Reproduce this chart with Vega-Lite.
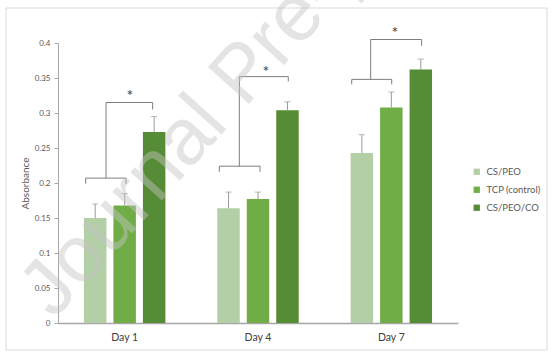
{
  "$schema": "https://vega.github.io/schema/vega-lite/v6.json",
  "width": 400,
  "height": 280,
  "autosize": {"type": "none"},
  "padding": {"left": 58, "top": 43, "right": 96, "bottom": 34},
  "background": "white",
  "config": {
    "font": "Lato",
    "view": {"stroke": null},
    "axis": {"labelColor": "#595959", "titleColor": "#595959", "domainColor": "#a6a6a6", "tickColor": "#a6a6a6", "grid": false}
  },
  "datasets": {
    "bars": [
      {"day": "Day 1", "group": "CS/PEO", "value": 0.150, "upper": 0.170},
      {"day": "Day 1", "group": "TCP (control)", "value": 0.168, "upper": 0.185},
      {"day": "Day 1", "group": "CS/PEO/CO", "value": 0.273, "upper": 0.295},
      {"day": "Day 4", "group": "CS/PEO", "value": 0.164, "upper": 0.187},
      {"day": "Day 4", "group": "TCP (control)", "value": 0.177, "upper": 0.187},
      {"day": "Day 4", "group": "CS/PEO/CO", "value": 0.304, "upper": 0.316},
      {"day": "Day 7", "group": "CS/PEO", "value": 0.243, "upper": 0.269},
      {"day": "Day 7", "group": "TCP (control)", "value": 0.308, "upper": 0.330},
      {"day": "Day 7", "group": "CS/PEO/CO", "value": 0.362, "upper": 0.377}
    ],
    "brackets": [
      {"xa": 0.2075, "xb": 0.51, "ya": 0.207, "yb": 0.207},
      {"xa": 0.2075, "xb": 0.2075, "ya": 0.199, "yb": 0.207},
      {"xa": 0.51, "xb": 0.51, "ya": 0.199, "yb": 0.207},
      {"xa": 0.36, "xb": 0.36, "ya": 0.207, "yb": 0.315},
      {"xa": 0.36, "xb": 0.71, "ya": 0.315, "yb": 0.315},
      {"xa": 0.71, "xb": 0.71, "ya": 0.305, "yb": 0.315},
      {"xa": 1.21, "xb": 1.515, "ya": 0.224, "yb": 0.224},
      {"xa": 1.21, "xb": 1.21, "ya": 0.216, "yb": 0.224},
      {"xa": 1.515, "xb": 1.515, "ya": 0.216, "yb": 0.224},
      {"xa": 1.36, "xb": 1.36, "ya": 0.224, "yb": 0.352},
      {"xa": 1.36, "xb": 1.727, "ya": 0.352, "yb": 0.352},
      {"xa": 1.727, "xb": 1.727, "ya": 0.345, "yb": 0.352},
      {"xa": 2.203, "xb": 2.503, "ya": 0.348, "yb": 0.348},
      {"xa": 2.203, "xb": 2.203, "ya": 0.341, "yb": 0.348},
      {"xa": 2.503, "xb": 2.503, "ya": 0.341, "yb": 0.348},
      {"xa": 2.345, "xb": 2.345, "ya": 0.348, "yb": 0.405},
      {"xa": 2.345, "xb": 2.727, "ya": 0.405, "yb": 0.405},
      {"xa": 2.727, "xb": 2.727, "ya": 0.396, "yb": 0.405}
    ],
    "stars": [
      {"x": 0.54, "y": 0.3176, "label": "*"},
      {"x": 1.56, "y": 0.352, "label": "*"},
      {"x": 2.5275, "y": 0.4066, "label": "*"}
    ],
    "watermark": [
      {"x": -0.03, "y": 0.004, "label": "Journal Pre-proof"}
    ],
    "frame": [
      {"xa": -0.39, "xb": 3.6675, "ya": -0.0386, "yb": 0.45}
    ]
  },
  "layer": [
    {
      "data": {"name": "bars"},
      "encoding": {
        "x": {"field": "day", "type": "nominal", "sort": ["Day 1", "Day 4", "Day 7"],
              "scale": {"paddingInner": 0, "paddingOuter": 0},
              "axis": {"title": null, "labelAngle": 0, "ticks": false, "tickSize": 0, "labelPadding": 9, "labelFontSize": 10.5, "labelColor": "#404040", "domainWidth": 1.5}},
        "xOffset": {"field": "group", "type": "nominal", "sort": ["CS/PEO", "TCP (control)", "CS/PEO/CO"],
                    "scale": {"paddingInner": 0.237, "paddingOuter": 0.88}}
      },
      "layer": [
        {
          "mark": {"type": "bar"},
          "encoding": {
            "y": {"field": "value", "type": "quantitative", "scale": {"domain": [0, 0.4], "nice": false},
                  "axis": {"title": "Absorbance", "values": [0, 0.05, 0.1, 0.15, 0.2, 0.25, 0.3, 0.35, 0.4], "labelExpr": "format(datum.value, '~g')", "labelOverlap": false, "tickSize": 4, "labelPadding": 4, "labelFontSize": 8, "titleFontSize": 10, "titleFontWeight": "normal", "titlePadding": 4}},
            "color": {"field": "group", "type": "nominal", "sort": ["CS/PEO", "TCP (control)", "CS/PEO/CO"],
                      "scale": {"domain": ["CS/PEO", "TCP (control)", "CS/PEO/CO"], "range": ["#b3cfa5", "#70ad47", "#578c37"]},
                      "legend": {"title": null, "orient": "none", "legendX": 414, "legendY": 124, "symbolType": "square", "symbolSize": 40, "labelFontSize": 9.5, "labelColor": "#595959", "rowPadding": 7, "labelOffset": 5, "symbolStrokeWidth": 0}}
          }
        },
        {
          "mark": {"type": "rule", "color": "#9a9a9a", "strokeWidth": 1},
          "encoding": {
            "y": {"field": "value", "type": "quantitative", "axis": null},
            "y2": {"field": "upper"}
          }
        },
        {
          "mark": {"type": "tick", "color": "#9a9a9a", "size": 6, "thickness": 1},
          "encoding": {
            "y": {"field": "upper", "type": "quantitative", "axis": null}
          }
        }
      ],
      "resolve": {"axis": {"y": "independent"}}
    },
    {
      "encoding": {},
      "layer": [
        {
          "data": {"name": "frame"},
          "mark": {"type": "rect", "fill": null, "fillOpacity": 0, "stroke": "#d9d9d9", "strokeWidth": 1},
          "encoding": {
            "x": {"field": "xa", "type": "quantitative", "scale": {"domain": [0, 3], "nice": false, "zero": false}, "axis": null},
            "x2": {"field": "xb"},
            "y": {"field": "ya", "type": "quantitative", "axis": null},
            "y2": {"field": "yb"}
          }
        },
        {
          "data": {"name": "brackets"},
          "mark": {"type": "rule", "color": "#7f7f7f", "strokeWidth": 1},
          "encoding": {
            "x": {"field": "xa", "type": "quantitative", "axis": null},
            "x2": {"field": "xb"},
            "y": {"field": "ya", "type": "quantitative", "axis": null},
            "y2": {"field": "yb"}
          }
        },
        {
          "data": {"name": "stars"},
          "mark": {"type": "text", "fontSize": 16, "fill": "#404040", "align": "center", "baseline": "alphabetic"},
          "encoding": {
            "x": {"field": "x", "type": "quantitative", "axis": null},
            "y": {"field": "y", "type": "quantitative", "axis": null},
            "text": {"field": "label"},
            "color": {"value": "#404040"}
          }
        },
        {
          "data": {"name": "watermark"},
          "mark": {"type": "text", "fontSize": 80, "font": "Liberation Sans", "fill": "#c4c4c4", "opacity": 0.45, "align": "left", "baseline": "alphabetic", "angle": 312},
          "encoding": {
            "x": {"field": "x", "type": "quantitative", "axis": null},
            "y": {"field": "y", "type": "quantitative", "axis": null},
            "text": {"field": "label"},
            "color": {"value": "#c4c4c4"}
          }
        }
      ]
    }
  ],
  "resolve": {"scale": {"x": "independent"}, "axis": {"x": "independent", "y": "independent"}}
}
